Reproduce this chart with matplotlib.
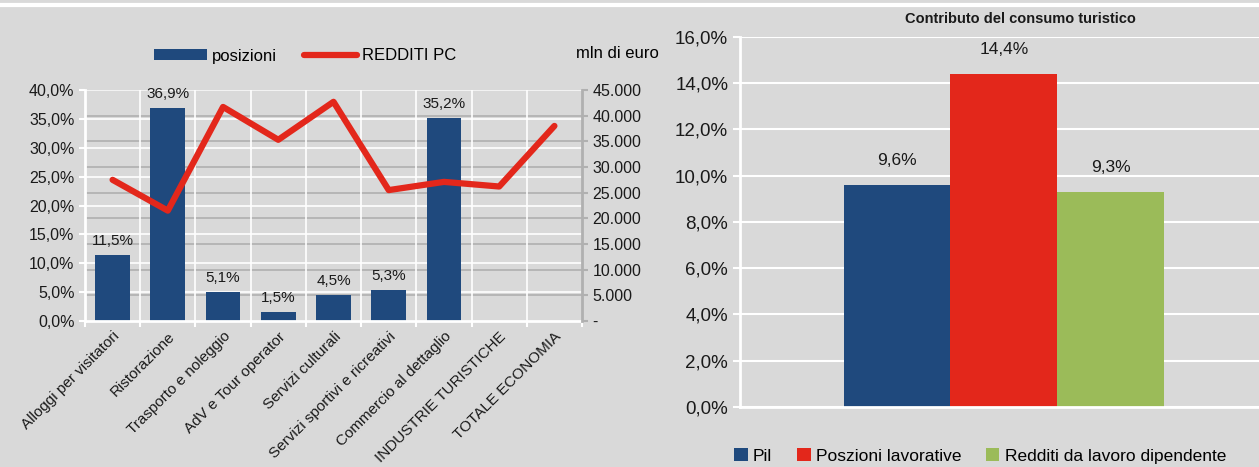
import matplotlib
matplotlib.use("Agg")
import matplotlib.pyplot as plt
from matplotlib.patches import Patch
from matplotlib.lines import Line2D
from matplotlib.ticker import FuncFormatter, MultipleLocator
import numpy as np

plt.rcParams['font.family'] = ['Liberation Sans Narrow', 'Liberation Sans', 'DejaVu Sans']

# left chart data
categories = ["Alloggi per visitatori", "Ristorazione", "Trasporto e noleggio",
              "AdV e Tour operator", "Servizi culturali", "Servizi sportivi e ricreativi",
              "Commercio al dettaglio", "INDUSTRIE TURISTICHE", "TOTALE ECONOMIA"]
posizioni = [11.5, 36.9, 5.1, 1.5, 4.5, 5.3, 35.2, np.nan, np.nan]
redditi_pc = [27500, 21500, 41700, 35300, 42700, 25500, 27100, 26200, 38000]

# right chart data
series_names = ["Pil", "Poszioni lavorative", "Redditi da lavoro dipendente"]
contributo = [9.6, 14.4, 9.3]

BG = "#d9d9d9"
NAVY = "#1f497d"
RED = "#e3271b"
GREEN = "#9bbb59"
GRID_GREY = "#b0b0b0"
TXT = "#1a1a1a"

def pct(v, _=None):
    return f"{v:.1f}%".replace(".", ",")

def thousands(v, _=None):
    if v == 0:
        return "-"
    return f"{int(v):,}".replace(",", ".")

fig = plt.figure(figsize=(12.59, 4.67), dpi=100, facecolor=BG)
fig.add_artist(Line2D([0, 1], [1 - 5 / 467, 1 - 5 / 467], color="white", lw=3))

# ---- left chart ----
ax = fig.add_axes([0.0675, 0.3126, 0.3948, 0.4947])
ax.set_facecolor(BG)
x = np.arange(len(categories))
ax2 = ax.twinx()

ax.set_xlim(-0.5, len(categories) - 0.5)
ax.set_ylim(0, 40)
ax.yaxis.set_major_locator(MultipleLocator(5))
ax.yaxis.set_major_formatter(FuncFormatter(pct))
ax2.set_ylim(0, 45000)
ax2.yaxis.set_major_locator(MultipleLocator(5000))
ax2.yaxis.set_major_formatter(FuncFormatter(thousands))

# grids: right axis grey, left axis white, category separators white
for v in np.arange(5000, 45001, 5000):
    ax.axhline(v / 45000 * 40, color=GRID_GREY, lw=1.2, zorder=0)
for v in np.arange(5, 41, 5):
    ax.axhline(v, color="white", lw=1.2, zorder=0.5)
for b in np.arange(0.5, len(categories) - 0.5, 1):
    ax.axvline(b, color="white", lw=1.2, zorder=0.5)

ax.bar(x, posizioni, width=0.63, color=NAVY, zorder=2)
for xi, v in zip(x, posizioni):
    if not np.isnan(v):
        ax.annotate(pct(v), (xi, v), xytext=(0, 5), textcoords="offset points",
                    ha="center", va="bottom", fontsize=11, color=TXT)

ax2.plot(x, redditi_pc, color=RED, lw=4.5, solid_capstyle="round", zorder=3)

ax.set_xticks(np.arange(-0.5, len(categories), 1), minor=False)
ax.set_xticklabels([])
ax.set_xticks(x, minor=True)
ax.set_xticklabels(categories, minor=True, rotation=45, ha="right", va="top",
                   rotation_mode="anchor", fontsize=11, color=TXT)
ax.tick_params(axis="x", which="major", length=4, color="white", width=1.5)
ax.tick_params(axis="x", which="minor", length=0, pad=6)
ax.tick_params(axis="y", length=4, color="white", width=1.5, labelsize=11.5,
               labelcolor=TXT)
ax2.tick_params(axis="y", length=4, color=GRID_GREY, width=1.5, labelsize=11.5,
                labelcolor=TXT)
for s in ["top", "right"]:
    ax.spines[s].set_visible(False)
ax.spines["left"].set_color("white")
ax.spines["left"].set_linewidth(2)
ax.spines["bottom"].set_color("white")
ax.spines["bottom"].set_linewidth(2)
for s in ["top", "left", "bottom"]:
    ax2.spines[s].set_visible(False)
ax2.spines["right"].set_color(GRID_GREY)
ax2.spines["right"].set_linewidth(2)

handles = [Patch(facecolor=NAVY), Line2D([0], [0], color=RED, lw=4.5, solid_capstyle="round")]
fig.legend(handles, ["posizioni", "REDDITI PC"], loc="center", ncol=2, frameon=False,
           bbox_to_anchor=(305 / 1259, 1 - 56 / 467), fontsize=12,
           handlelength=3.2, handleheight=0.6, columnspacing=1.6, handletextpad=0.3)
fig.text(617 / 1259, 1 - 53 / 467, "mln di euro", ha="center", va="center", fontsize=12)

# ---- right chart ----
axr = fig.add_axes([0.5878, 0.1285, 0.4122, 0.7923])
axr.set_facecolor(BG)
xs = np.arange(len(series_names))
colors = [NAVY, RED, GREEN]
axr.bar(xs, contributo, width=1.0, color=colors, zorder=2)
for xi, v in zip(xs, contributo):
    axr.annotate(pct(v), (xi, v), xytext=(0, 12), textcoords="offset points",
                 ha="center", va="bottom", fontsize=12.5, color=TXT)
axr.set_xlim(-1.47, 3.39)
axr.set_ylim(0, 16)
axr.yaxis.set_major_locator(MultipleLocator(2))
axr.yaxis.set_major_formatter(FuncFormatter(pct))
axr.grid(axis="y", color="white", lw=1.5, zorder=0)
axr.set_xticks([])
axr.tick_params(axis="y", length=5, color="white", width=1.5, labelsize=13.5,
                labelcolor=TXT)
for s in ["top", "right"]:
    axr.spines[s].set_visible(False)
axr.spines["left"].set_color("white")
axr.spines["left"].set_linewidth(2)
axr.spines["bottom"].set_color("white")
axr.spines["bottom"].set_linewidth(2)
axr.set_title("Contributo del consumo turistico", fontsize=10.5, fontweight="bold",
              color=TXT, pad=10, x=0.54)

rhandles = [Patch(facecolor=c) for c in colors]
fig.legend(rhandles, series_names, loc="center", ncol=3, frameon=False,
           bbox_to_anchor=(980 / 1259, 1 - 456 / 467), fontsize=12.5,
           handlelength=0.8, handleheight=0.8, columnspacing=1.4, handletextpad=0.3)

fig.savefig("out.png", dpi=100, facecolor=BG)
